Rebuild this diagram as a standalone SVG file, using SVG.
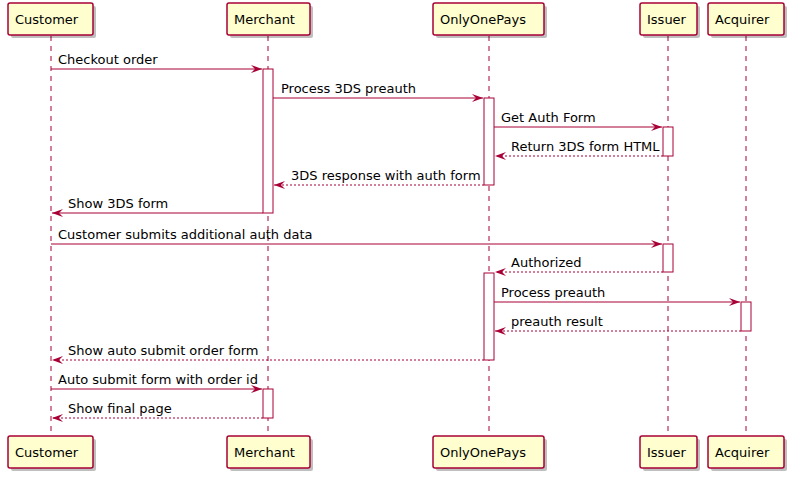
<svg xmlns="http://www.w3.org/2000/svg" width="791" height="477" viewBox="0 0 791 477">
<style>
.box{fill:#FEFECE;stroke:#A80036;stroke-width:1.5}
.sh{fill:#000;opacity:0.25}
.life{stroke:#A80036;stroke-width:1;stroke-dasharray:5,5}
.act{fill:#FFFFFF;stroke:#A80036;stroke-width:1}
.m{stroke:#A80036;stroke-width:1;fill:none}
.d{stroke-dasharray:2,2}
.t{font-family:"DejaVu Sans",sans-serif;font-size:13px;fill:#000}
.hd{fill:#A80036}
</style>
<rect width="791" height="477" fill="#fff"/>
<g id="lifelines">
<line class="life" x1="51" y1="36" x2="51" y2="436"/>
<line class="life" x1="268" y1="36" x2="268" y2="436"/>
<line class="life" x1="489" y1="36" x2="489" y2="436"/>
<line class="life" x1="668" y1="36" x2="668" y2="436"/>
<line class="life" x1="746" y1="36" x2="746" y2="436"/>
</g>
<g id="Customer">
<rect class="sh" x="11" y="6" width="85" height="32" rx="2"/><rect class="box" x="8" y="3" width="85" height="32" rx="2"/><text class="t" x="15" y="24">Customer</text>
<rect class="sh" x="11" y="439" width="85" height="32" rx="2"/><rect class="box" x="8" y="436" width="85" height="32" rx="2"/><text class="t" x="15" y="457">Customer</text>
</g>
<g id="Merchant">
<rect class="sh" x="230" y="6" width="83" height="32" rx="2"/><rect class="box" x="227" y="3" width="83" height="32" rx="2"/><text class="t" x="234" y="24">Merchant</text>
<rect class="sh" x="230" y="439" width="83" height="32" rx="2"/><rect class="box" x="227" y="436" width="83" height="32" rx="2"/><text class="t" x="234" y="457">Merchant</text>
</g>
<g id="OnlyOnePays">
<rect class="sh" x="436" y="6" width="111" height="32" rx="2"/><rect class="box" x="433" y="3" width="111" height="32" rx="2"/><text class="t" x="440" y="24">OnlyOnePays</text>
<rect class="sh" x="436" y="439" width="111" height="32" rx="2"/><rect class="box" x="433" y="436" width="111" height="32" rx="2"/><text class="t" x="440" y="457">OnlyOnePays</text>
</g>
<g id="Issuer">
<rect class="sh" x="643" y="6" width="57" height="32" rx="2"/><rect class="box" x="640" y="3" width="57" height="32" rx="2"/><text class="t" x="647" y="24">Issuer</text>
<rect class="sh" x="643" y="439" width="57" height="32" rx="2"/><rect class="box" x="640" y="436" width="57" height="32" rx="2"/><text class="t" x="647" y="457">Issuer</text>
</g>
<g id="Acquirer">
<rect class="sh" x="711" y="6" width="76" height="32" rx="2"/><rect class="box" x="708" y="3" width="76" height="32" rx="2"/><text class="t" x="715" y="24">Acquirer</text>
<rect class="sh" x="711" y="439" width="76" height="32" rx="2"/><rect class="box" x="708" y="436" width="76" height="32" rx="2"/><text class="t" x="715" y="457">Acquirer</text>
</g>
<g id="activations">
<rect class="act" x="263" y="69" width="10" height="144"/>
<rect class="act" x="484" y="98" width="10" height="87"/>
<rect class="act" x="663" y="127" width="10" height="29"/>
<rect class="act" x="663" y="244" width="10" height="28"/>
<rect class="act" x="484" y="273" width="10" height="87"/>
<rect class="act" x="741" y="302" width="10" height="29"/>
<rect class="act" x="263" y="389" width="10" height="29"/>
</g>
<g id="connectors">
<line class="m" x1="51" y1="69" x2="262" y2="69"/><polygon class="hd" points="251,65 262,69 251,73 255,69"/><text class="t" x="58" y="64">Checkout order</text>
<line class="m" x1="273" y1="98" x2="483" y2="98"/><polygon class="hd" points="472,94 483,98 472,102 476,98"/><text class="t" x="281" y="93">Process 3DS preauth</text>
<line class="m" x1="494" y1="127" x2="662" y2="127"/><polygon class="hd" points="651,123 662,127 651,131 655,127"/><text class="t" x="501" y="122">Get Auth Form</text>
<line class="m d" x1="663" y1="156" x2="495" y2="156"/><polygon class="hd" points="506,152 495,156 506,160 502,156"/><text class="t" x="511" y="151">Return 3DS form HTML</text>
<line class="m d" x1="484" y1="185" x2="274" y2="185"/><polygon class="hd" points="285,181 274,185 285,189 281,185"/><text class="t" x="291" y="180">3DS response with auth form</text>
<line class="m" x1="263" y1="213" x2="52" y2="213"/><polygon class="hd" points="63,209 52,213 63,217 59,213"/><text class="t" x="68" y="208">Show 3DS form</text>
<line class="m" x1="51" y1="244" x2="662" y2="244"/><polygon class="hd" points="651,240 662,244 651,248 655,244"/><text class="t" x="58" y="239">Customer submits additional auth data</text>
<line class="m d" x1="663" y1="272" x2="495" y2="272"/><polygon class="hd" points="506,268 495,272 506,276 502,272"/><text class="t" x="511" y="267">Authorized</text>
<line class="m" x1="494" y1="302" x2="740" y2="302"/><polygon class="hd" points="729,298 740,302 729,306 733,302"/><text class="t" x="501" y="297">Process preauth</text>
<line class="m d" x1="741" y1="331" x2="495" y2="331"/><polygon class="hd" points="506,327 495,331 506,335 502,331"/><text class="t" x="511" y="326">preauth result</text>
<line class="m d" x1="484" y1="360" x2="52" y2="360"/><polygon class="hd" points="63,356 52,360 63,364 59,360"/><text class="t" x="68" y="355">Show auto submit order form</text>
<line class="m" x1="51" y1="389" x2="262" y2="389"/><polygon class="hd" points="251,385 262,389 251,393 255,389"/><text class="t" x="58" y="384">Auto submit form with order id</text>
<line class="m d" x1="263" y1="418" x2="52" y2="418"/><polygon class="hd" points="63,414 52,418 63,422 59,418"/><text class="t" x="68" y="413">Show final page</text>
</g>
</svg>
